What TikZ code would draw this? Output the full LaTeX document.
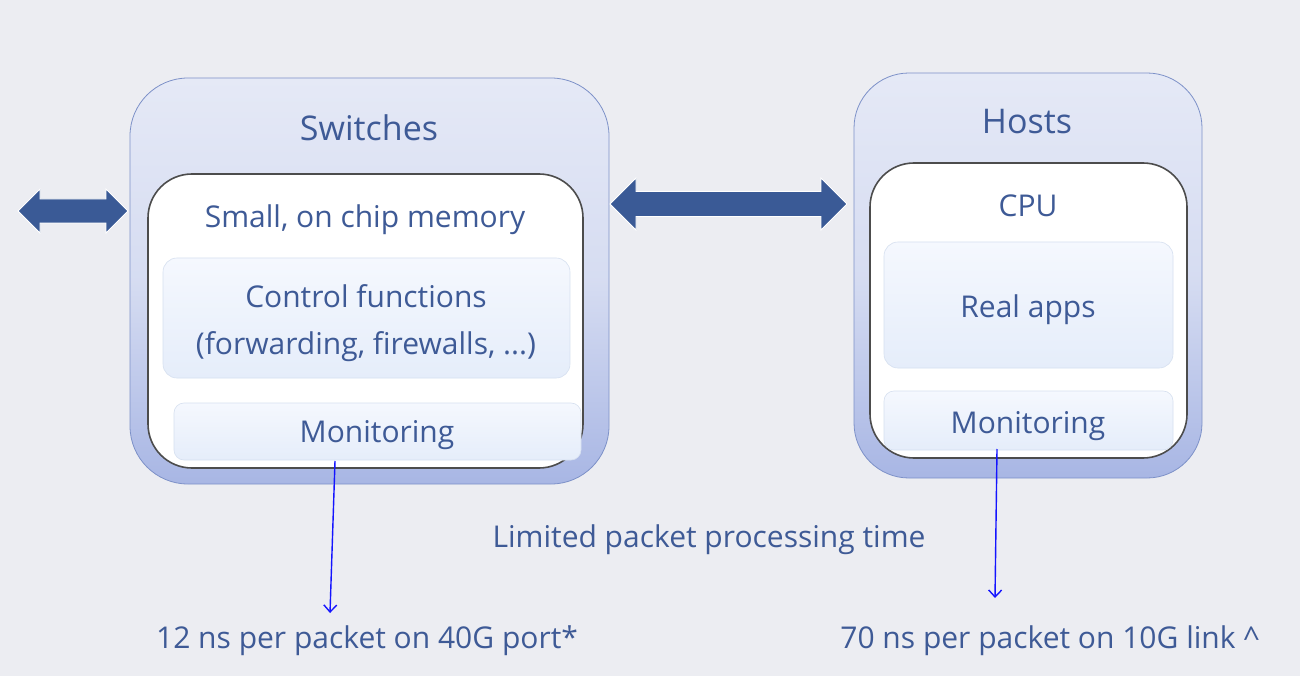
\documentclass[tikz,border=0pt]{standalone}
\usepackage{fontspec}
\setmainfont{Open Sans}
\usetikzlibrary{calc,arrows.meta}
\definecolor{bg}{RGB}{236,237,242}
\definecolor{txt}{RGB}{62,90,150}
\definecolor{arrowblue}{RGB}{58,90,150}
\definecolor{outtop}{RGB}{229,233,246}
\definecolor{outbot}{RGB}{168,182,228}
\definecolor{outline}{RGB}{125,145,200}
\definecolor{intop}{RGB}{245,248,254}
\definecolor{inbot}{RGB}{229,237,250}
\definecolor{inline}{RGB}{214,224,240}
\definecolor{linkblue}{RGB}{20,20,255}
\newcommand{\fatarrow}[6]{%
\fill[arrowblue, draw=white, line width=0.8pt] (#1,#3) -- ({#1+#6},{#3-#5}) -- ({#1+#6},{#3-#4}) -- ({#2-#6},{#3-#4}) -- ({#2-#6},{#3-#5}) -- (#2,#3) -- ({#2-#6},{#3+#5}) -- ({#2-#6},{#3+#4}) -- ({#1+#6},{#3+#4}) -- ({#1+#6},{#3+#5}) -- cycle;}
\tikzset{
  outerbox/.style={draw=outline, line width=0.8pt, top color=outtop, bottom color=outbot, middle color=outtop!75!outbot, rounded corners=58pt, inner sep=0pt},
  innerbox/.style={draw=black!70, line width=1.6pt, fill=white, rounded corners=44pt, inner sep=0pt},
  subbox/.style={draw=inline, line width=0.6pt, top color=intop, bottom color=inbot, rounded corners=14pt, inner sep=0pt},
  lbl/.style={text=txt, inner sep=0pt, anchor=base},
  body/.style={font=\fontsize{30}{36}\selectfont},
  title/.style={font=\fontsize{34}{40}\selectfont},
  thinarrow/.style={draw=linkblue, line width=1.4pt, -{Straight Barb[length=7pt,width=13pt,line width=1.4pt]}}
}
\begin{document}
\begin{tikzpicture}[x=1pt,y=-1pt]
\fill[bg] (0,0) rectangle (1300,676);
\useasboundingbox (0,0) rectangle (1300,676);
% Switches
\node[outerbox, minimum width=479pt, minimum height=406pt] (swout) at (369.5,281) {};
\node[lbl, title] (swtitle) at (369,141) {Switches};
\node[innerbox, minimum width=435pt, minimum height=294pt] (swin) at (365.5,321) {};
\node[lbl, body] (swmem) at (365,228) {Small, on chip memory};
\node[subbox, minimum width=407pt, minimum height=120pt] (ctrl) at (366.5,318) {};
\node[lbl, body] (ctrl1) at (366,307) {Control functions};
\node[lbl, body] (ctrl2) at (366,354) {(forwarding, firewalls, ...)};
\node[subbox, rounded corners=10pt, minimum width=407pt, minimum height=57pt] (swmon) at (377.5,431.5) {};
\node[lbl, body] (swmontxt) at (377,442) {Monitoring};
% Hosts
\node[outerbox, rounded corners=55pt, minimum width=348pt, minimum height=405pt] (hout) at (1028,275.5) {};
\node[lbl, title] (htitle) at (1027,134) {Hosts};
\node[innerbox, minimum width=317pt, minimum height=295pt] (hin) at (1028.5,310.5) {};
\node[lbl, body] (cpu) at (1028,217) {CPU};
\node[subbox, minimum width=289pt, minimum height=126pt] (apps) at (1028.5,305) {};
\node[lbl, body] (appstxt) at (1028,317) {Real apps};
\node[subbox, rounded corners=10pt, minimum width=289pt, minimum height=59pt] (hmon) at (1028.5,420.5) {};
\node[lbl, body] (hmontxt) at (1028,433) {Monitoring};
% fat arrows
\fatarrow{18}{128}{211}{12}{22}{22}
\fatarrow{610}{847}{204}{12.5}{26}{26}
% texts
\node[lbl, body] (limit) at (709,547) {Limited packet processing time};
\node[lbl, body] (sw12) at (367,648) {12 ns per packet on 40G port*};
\node[lbl, body] (h70) at (1050,648) {70 ns per packet on 10G link \^{}};
% thin arrows
\coordinate (swa) at (335,461);
\coordinate (swb) at (330,613);
\coordinate (ha) at (997,449);
\coordinate (hb) at (995,598);
\draw[thinarrow] (swa) -- (swb);
\draw[thinarrow] (ha) -- (hb);
\end{tikzpicture}
\end{document}
